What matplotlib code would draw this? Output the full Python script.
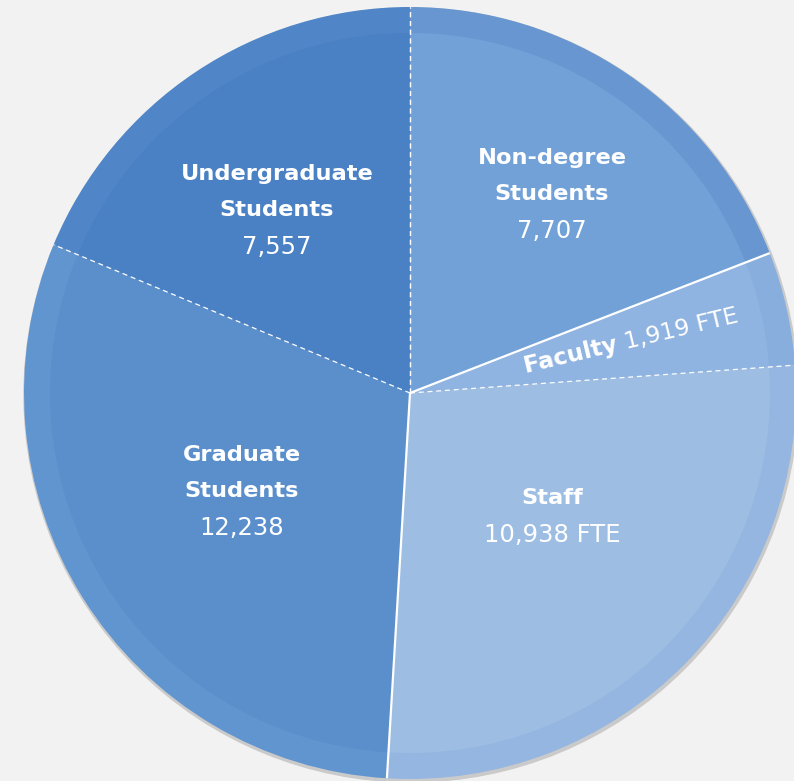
import matplotlib.pyplot as plt
import numpy as np

# data, clockwise from 12 o'clock
labels = ["Non-degree\nStudents", "Faculty", "Staff", "Graduate\nStudents", "Undergraduate\nStudents"]
values = [7707, 1919, 10938, 12238, 7557]
value_text = ["7,707", "1,919 FTE", "10,938 FTE", "12,238", "7,557"]

colors = ["#72a1d7", "#8fb4e1", "#9dbde3", "#5a8fcb", "#4a80c4"]
rim_colors = ["#6896d1", "#88aedd", "#94b6e0", "#6195d0", "#5086c8"]
# separator style after each slice (line at the slice's end angle)
sep_style = ["-", "--", "-", "--", "--"]

W, H = 794, 781
cx, cy, R = 410, H - 393, 386
rim = 26

fig = plt.figure(figsize=(W / 100, H / 100), dpi=100)
fig.patch.set_facecolor("#f2f2f2")
ax = fig.add_axes([0, 0, 1, 1])

# outer shadow edge
ax.add_patch(plt.Circle((cx + 1, cy - 2), R + 1, color="#cacaca", zorder=0))

# rim ring + main fill
ax.pie(values, colors=rim_colors, startangle=90, counterclock=False,
       center=(cx, cy), radius=R, wedgeprops=dict(linewidth=0), frame=True)
ax.pie(values, colors=colors, startangle=90, counterclock=False,
       center=(cx, cy), radius=R - rim, wedgeprops=dict(linewidth=0), frame=True)
ax.set_xlim(0, W)
ax.set_ylim(0, H)
ax.set_axis_off()

# separators
total = sum(values)
ang = 90.0
angles = [90.0]
for v in values:
    ang -= 360.0 * v / total
    angles.append(ang)
for i, a in enumerate(angles[1:]):
    t = np.deg2rad(a)
    if sep_style[i] == "-":
        ax.plot([cx, cx + R * np.cos(t)], [cy, cy + R * np.sin(t)],
                color="white", lw=1.6, zorder=5, solid_capstyle="butt")
    else:
        ax.plot([cx, cx + R * np.cos(t)], [cy, cy + R * np.sin(t)],
                color="white", lw=0.9, ls="--", dashes=(4, 3), zorder=5)
# top divider (dashed)
ax.plot([cx, cx], [cy, cy + R], color="white", lw=0.9, ls="--", dashes=(4, 3), zorder=5)

font = "DejaVu Sans"
fs = 16.2
fv = 17.5
gap = 36

def block(x, y, title, val):
    lines = title.split("\n")
    for k, ln in enumerate(lines):
        ax.text(x, H - (y + k * gap), ln, ha="center", va="center", color="white",
                fontsize=fs, fontweight="bold", family=font, zorder=6)
    ax.text(x, H - (y + len(lines) * gap + 1), val, ha="center", va="center",
            color="white", fontsize=fv, family=font, zorder=6)

# label positions (pixel coords from top)
block(277, 174, labels[4], value_text[4])
block(552, 158, labels[0], value_text[0])
block(242, 455, labels[3], value_text[3])
block(552, 498, labels[2], value_text[2])

# faculty label along the thin slice
rot = 13.5
ax.text(625, H - 343, labels[1] + " ", ha="right", va="center", color="white", fontsize=16.8,
        fontweight="bold", family=font, rotation=rot, rotation_mode="anchor", zorder=6)
ax.text(625, H - 343, value_text[1], ha="left", va="center", color="white", fontsize=16.8,
        family=font, rotation=rot, rotation_mode="anchor", zorder=6)

fig.savefig("out.png", dpi=100, facecolor=fig.get_facecolor())
